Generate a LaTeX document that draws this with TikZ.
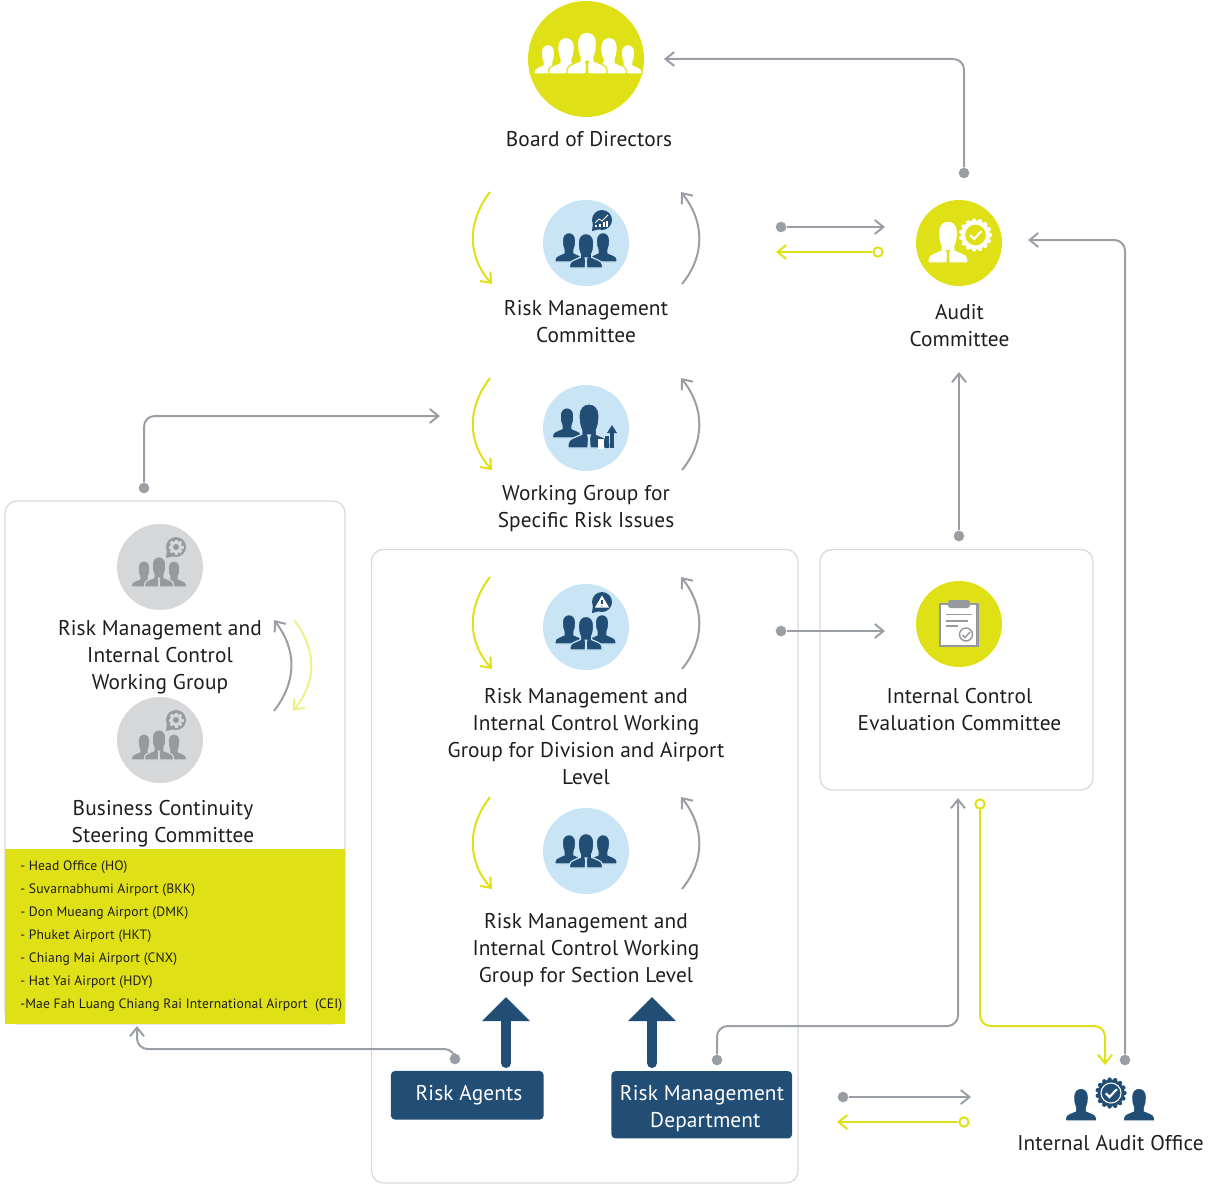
\documentclass[tikz,border=0pt]{standalone}
\usepackage{fontspec}
\setmainfont{PT Sans}
\newfontfamily\capfont[LetterSpace=0.6]{PT Sans}
\newfontfamily\sitefont[LetterSpace=0.9]{PT Sans}
\usepackage{tikz}
\usetikzlibrary{arrows.meta}

\definecolor{limefill}{HTML}{E0E017}
\definecolor{limepale}{HTML}{EEF08C}
\definecolor{navyfill}{HTML}{224E76}
\definecolor{skyfill}{HTML}{C9E5F5}
\definecolor{greyfill}{HTML}{D5D7D9}
\definecolor{greyicon}{HTML}{96999E}
\definecolor{greyline}{HTML}{9A9EA5}
\definecolor{boxline}{HTML}{D9DADB}
\definecolor{textcol}{HTML}{1E1E1E}

\tikzset{
  >={Straight Barb[length=6.5pt,width=10.5pt]},
  greyarrow/.style={->,draw=greyline,line width=1.5pt,rounded corners=8pt},
  limearrow/.style={->,draw=limefill,line width=1.5pt,rounded corners=8pt},
  greydot/.style={circle,fill=greyline,inner sep=0pt,minimum size=8pt},
  limedot/.style={circle,draw=limefill,fill=white,line width=1.5pt,inner sep=0pt,minimum size=7pt},
  bigdisc/.style={circle,inner sep=0pt,minimum size=#1},
  disc/.style={bigdisc=64.5pt},
  caption/.style={align=center,font=\capfont\fontsize{16}{20.25}\selectfont,text=textcol,inner sep=0pt},
  whitetext/.style={align=center,font=\capfont\fontsize{16}{20.25}\selectfont,text=white,inner sep=0pt},
  branch/.style={anchor=west,font=\sitefont\fontsize{10.2}{12}\selectfont,text=textcol,inner sep=0pt},
  panel/.style={draw=boxline,line width=1pt,rounded corners=9pt},
  bluebox/.style={fill=navyfill,rounded corners=3pt,inner sep=0pt},
  bigup/.style={draw=navyfill,line width=7.5pt,line cap=round},
}

% person seen from the front, standing on (x,y)
\newcommand{\personicon}[5]{
  \begin{scope}[shift={(#1,#2)},scale=#3]
    \filldraw[fill=#4,draw=#5,line width=0.9pt] (-20,0) -- (-20,-4) .. controls (-20,-7) and (-18,-8) .. (-14,-10)
      -- (-7,-13) -- (-7,-17) .. controls (-8.5,-20) and (-9.5,-24) .. (-9.5,-31)
      .. controls (-9.5,-38) and (-5.5,-42) .. (0,-42)
      .. controls (5.5,-42) and (9.5,-38) .. (9.5,-31)
      .. controls (9.5,-24) and (8.5,-20) .. (7,-17) -- (7,-13) -- (14,-10)
      .. controls (18,-8) and (20,-7) .. (20,-4) -- (20,0) -- cycle;
  \end{scope}
}
\newcommand{\tieicon}[4]{
  \begin{scope}[shift={(#1,#2)},scale=#3]
    \fill[#4] (-2,-13) -- (2,-13) -- (1,-9) -- (1.6,0) -- (-1.6,0) -- (-1,-9) -- cycle;
  \end{scope}
}
\newcommand{\bubbleicon}[3]{
  \fill[#3] (#1,#2) circle (10);
  \fill[#3] (#1-9,#2+3) -- (#1-10,#2+11) -- (#1-2,#2+9) -- cycle;
}
\newcommand{\gearicon}[2]{
  \bubbleicon{#1}{#2}{greyicon}
  \fill[greyfill] (#1,#2) circle (6);
  \foreach \ang in {0,45,...,135}
    \fill[greyfill,shift={(#1,#2)},rotate=\ang] (-1.5,-7.5) rectangle (1.5,7.5);
  \fill[greyicon] (#1,#2) circle (3);
}
% scalloped seal with a check mark
\newcommand{\sealicon}[5]{
  \foreach \ang in {0,24,...,336}
    \fill[#4] (#1,#2) ++(\ang:#3) circle (2.2);
  \fill[#4] (#1,#2) circle (#3);
  \filldraw[fill=#5,draw=white,line width=0.8pt] (#1,#2) circle (#3-3.5);
  \draw[white,line width=1.6pt,line cap=round] (#1-5,#2+0.5) -- (#1-1.5,#2+4) -- (#1+5.5,#2-3.5);
}
% the two curved arrows beside a committee
\newcommand{\swaparcs}[2]{
  \begin{scope}[shift={(0,#2)}]
    \coordinate (#1la) at (490,192);
    \coordinate (#1lb) at (492,284);
    \coordinate (#1ra) at (682,284);
    \coordinate (#1rb) at (681,192);
    \draw[limearrow] (#1la) .. controls (467,222) and (467,256) .. (#1lb);
    \draw[greyarrow] (#1ra) .. controls (705,256) and (705,222) .. (#1rb);
  \end{scope}
}

\begin{document}
\begin{tikzpicture}[x=0.75pt,y=-0.75pt]
  \useasboundingbox (0,0) rectangle (1212,1188);

  % panels
  \draw[panel] (5,501) rectangle (345,1024);
  \draw[panel] (371.5,549.5) rectangle (798,1183);
  \draw[panel] (820,549.5) rectangle (1093,790);
  \fill[limefill] (5,849) rectangle (345,1024);

  % board
  \node[bigdisc=87pt,fill=limefill] (board) at (586,59) {};
  \personicon{548}{74}{0.7}{white}{limefill}
  \personicon{628}{74}{0.7}{white}{limefill}
  \personicon{566}{74}{0.87}{white}{limefill}
  \personicon{609}{74}{0.87}{white}{limefill}
  \personicon{587}{74}{1}{white}{limefill}
  \tieicon{587}{74}{1}{limefill}
  \node[caption] (boardtext) at (589,139) {Board of Directors};

  % risk management committee
  \node[disc,fill=skyfill] (rmc) at (586,243) {};
  \personicon{569}{262}{0.7}{navyfill}{skyfill}
  \personicon{603}{262}{0.7}{navyfill}{skyfill}
  \personicon{586}{268}{0.82}{navyfill}{skyfill}
  \tieicon{586}{268}{0.82}{skyfill}
  \bubbleicon{602}{220}{navyfill}
  \draw[white,line width=0.6pt] (595,223) -- (599,219) -- (602,221) -- (608,215);
  \foreach \bx/\by in {596/225,600/224,604/222,607/221}
    \draw[white,line width=1pt] (\bx,227) -- (\bx,\by);
  \node[caption] (rmctext) at (586,321.5) {Risk Management\\Committee};
  \swaparcs{rmc}{0}

  % working group for specific risk
  \node[disc,fill=skyfill] (wgs) at (586,428) {};
  \personicon{567}{438}{0.72}{navyfill}{skyfill}
  \personicon{589}{448}{1.05}{navyfill}{skyfill}
  \tieicon{589}{448}{1.05}{skyfill}
  \fill[white] (598,439) rectangle (604,449);
  \fill[navyfill] (604.5,436) rectangle (609,448);
  \fill[navyfill] (610,448) rectangle (614,433);
  \fill[navyfill] (607,433) -- (612,425) -- (617,433) -- cycle;
  \node[caption] (wgstext) at (586,508.5) {Working Group for\\Specific Risk Issues};
  \swaparcs{wgs}{186}

  % division level
  \node[disc,fill=skyfill] (div) at (586,627) {};
  \personicon{569}{644}{0.7}{navyfill}{skyfill}
  \personicon{602}{644}{0.7}{navyfill}{skyfill}
  \personicon{586}{650}{0.8}{navyfill}{skyfill}
  \tieicon{586}{650}{0.8}{skyfill}
  \bubbleicon{602}{602}{navyfill}
  \fill[white] (595,607.5) -- (602,595.5) -- (609,607.5) -- cycle;
  \draw[navyfill,line width=0.9pt] (602,599.5) -- (602,604);
  \fill[navyfill] (602,606) circle (0.7);
  \node[caption] (divtext) at (586,736.5) {Risk Management and\\Internal Control Working\\Group for Division and Airport\\Level};
  \swaparcs{div}{385}

  % section level
  \node[disc,fill=skyfill] (sec) at (586,851) {};
  \personicon{569}{864}{0.7}{navyfill}{skyfill}
  \personicon{603}{864}{0.7}{navyfill}{skyfill}
  \personicon{586}{868}{0.82}{navyfill}{skyfill}
  \tieicon{586}{868}{0.82}{skyfill}
  \node[caption] (sectext) at (586,950) {Risk Management and\\Internal Control Working\\Group for Section Level};
  \swaparcs{sec}{605}

  % audit committee
  \node[disc,fill=limefill] (audit) at (959,243) {};
  \personicon{948}{263}{1}{white}{limefill}
  \tieicon{948}{263}{1}{limefill}
  \sealicon{975.5}{235}{14.5}{white}{limefill}
  \node[caption] (audittext) at (959.5,325.5) {Audit\\Committee};

  % internal control evaluation
  \node[disc,fill=limefill] (ice) at (959,624) {};
  \filldraw[fill=white,draw=greyicon,line width=1.6pt] (940,604) rectangle (977.5,646);
  \fill[greyicon,rounded corners=2pt] (948,600) rectangle (970,608);
  \draw[greyicon,line width=1.3pt] (946,614.5) -- (972,614.5);
  \draw[greyicon,line width=1.3pt] (946,621) -- (968,621);
  \draw[greyicon,line width=1.3pt] (946,626) -- (958,626);
  \filldraw[fill=white,draw=greyicon,line width=1.1pt] (966,634.5) circle (6.5);
  \draw[greyicon,line width=1.1pt] (962.5,635) -- (965,637.5) -- (970,632);
  \node[caption] (icetext) at (959.5,709.5) {Internal Control\\Evaluation Committee};

  % left panel
  \node[disc,fill=greyfill] (rmic) at (160,567) {};
  \personicon{144}{587}{0.62}{greyicon}{greyfill}
  \personicon{174}{587}{0.62}{greyicon}{greyfill}
  \personicon{159}{587}{0.72}{greyicon}{greyfill}
  \tieicon{159}{587}{0.72}{greyfill}
  \gearicon{176}{547}
  \node[caption] (rmictext) at (160,657) {Risk Management and\\Internal Control\\Working Group};

  \node[disc,fill=greyfill] (bcs) at (160,740) {};
  \personicon{144}{760}{0.62}{greyicon}{greyfill}
  \personicon{174}{760}{0.62}{greyicon}{greyfill}
  \personicon{159}{760}{0.72}{greyicon}{greyfill}
  \tieicon{159}{760}{0.72}{greyfill}
  \gearicon{176}{720}
  \node[caption] (bcstext) at (163,823.5) {Business Continuity\\Steering Committee};

  \coordinate (leftga) at (274,711);
  \coordinate (leftgb) at (274,620);
  \coordinate (leftya) at (294,620);
  \coordinate (leftyb) at (293,711);
  \draw[greyarrow] (leftga) .. controls (297,681) and (297,650) .. (leftgb);
  \draw[limearrow,draw=limepale] (leftya) .. controls (317,650) and (317,681) .. (leftyb);

  \foreach \txt [count=\i] in {- Head Office (HO),- Suvarnabhumi Airport (BKK),- Don Mueang Airport (DMK),- Phuket Airport (HKT),- Chiang Mai Airport (CNX),- Hat Yai Airport (HDY)}
    \node[branch] (site\i) at (20,844+23*\i) {\txt};
  \node[branch] (site7) at (20,1005) {-Mae Fah Luang Chiang Rai International Airport\ \ (CEI)};

  % bottom boxes
  \node[bluebox,minimum width=114.5pt,minimum height=36.5pt] (agents) at (467.25,1095.25) {};
  \node[whitetext] (agentstext) at (469,1095) {Risk Agents};
  \node[bluebox,minimum width=135.5pt,minimum height=50.5pt] (dept) at (701.75,1104.75) {};
  \node[whitetext] (depttext) at (702,1108.5) {Risk Management\\\hspace{5pt}Department};
  \coordinate (agentshaft) at (506,1063);
  \coordinate (agenthead) at (506,1021);
  \coordinate (deptshaft) at (652,1063);
  \coordinate (depthead) at (652,1021);
  \draw[bigup] (agentshaft) -- (agenthead);
  \draw[bigup] (deptshaft) -- (depthead);
  \fill[navyfill] (482,1021) -- (506,997) -- (530,1021) -- cycle;
  \fill[navyfill] (628,1021) -- (652,997) -- (676,1021) -- cycle;

  % audit office
  \personicon{1081}{1121}{0.78}{navyfill}{white}
  \personicon{1139}{1121}{0.78}{navyfill}{white}
  \sealicon{1111}{1093}{13.5}{navyfill}{navyfill}
  \node[caption] (iaotext) at (1110.5,1143) {Internal Audit Office};

  % connectors
  \node[greydot] (auditup) at (964,173) {};
  \coordinate (boardin) at (664,59);
  \draw[greyarrow] (auditup) |- (boardin);

  \node[greydot] (rmcout) at (781,227) {};
  \coordinate (auditin) at (885,227);
  \draw[greyarrow] (rmcout) -- (auditin);
  \node[limedot] (auditout) at (878,252) {};
  \coordinate (rmcin) at (776,252);
  \draw[limearrow] (auditout) -- (rmcin);

  \node[greydot] (iaoup) at (1125,1060) {};
  \coordinate (auditright) at (1028,240);
  \draw[greyarrow] (iaoup) |- (auditright);

  \node[greydot] (iceup) at (959,536) {};
  \coordinate (auditbelow) at (959,372);
  \draw[greyarrow] (iceup) -- (auditbelow);

  \node[greydot] (leftup) at (144,488) {};
  \coordinate (wgsin) at (440,416);
  \draw[greyarrow] (leftup) |- (wgsin);

  \node[greydot] (divout) at (781,631) {};
  \coordinate (icein) at (885,631);
  \draw[greyarrow] (divout) -- (icein);

  \node[greydot] (agentup) at (455,1059) {};
  \coordinate (listin) at (137,1026);
  \draw[greyarrow] (agentup) |- (137,1049) -- (listin);

  \node[greydot] (deptup) at (717,1060) {};
  \coordinate (icebelow) at (958,798);
  \draw[greyarrow] (deptup) |- (958,1026) -- (icebelow);

  \node[limedot] (icedown) at (980,804) {};
  \coordinate (iaoin) at (1105,1065);
  \draw[limearrow] (icedown) |- (1105,1026) -- (iaoin);

  \node[greydot] (deptout) at (843,1097) {};
  \coordinate (iaoleft) at (971,1097);
  \draw[greyarrow] (deptout) -- (iaoleft);
  \node[limedot] (iaoout) at (964,1122) {};
  \coordinate (deptin) at (837,1122);
  \draw[limearrow] (iaoout) -- (deptin);
\end{tikzpicture}
\end{document}
